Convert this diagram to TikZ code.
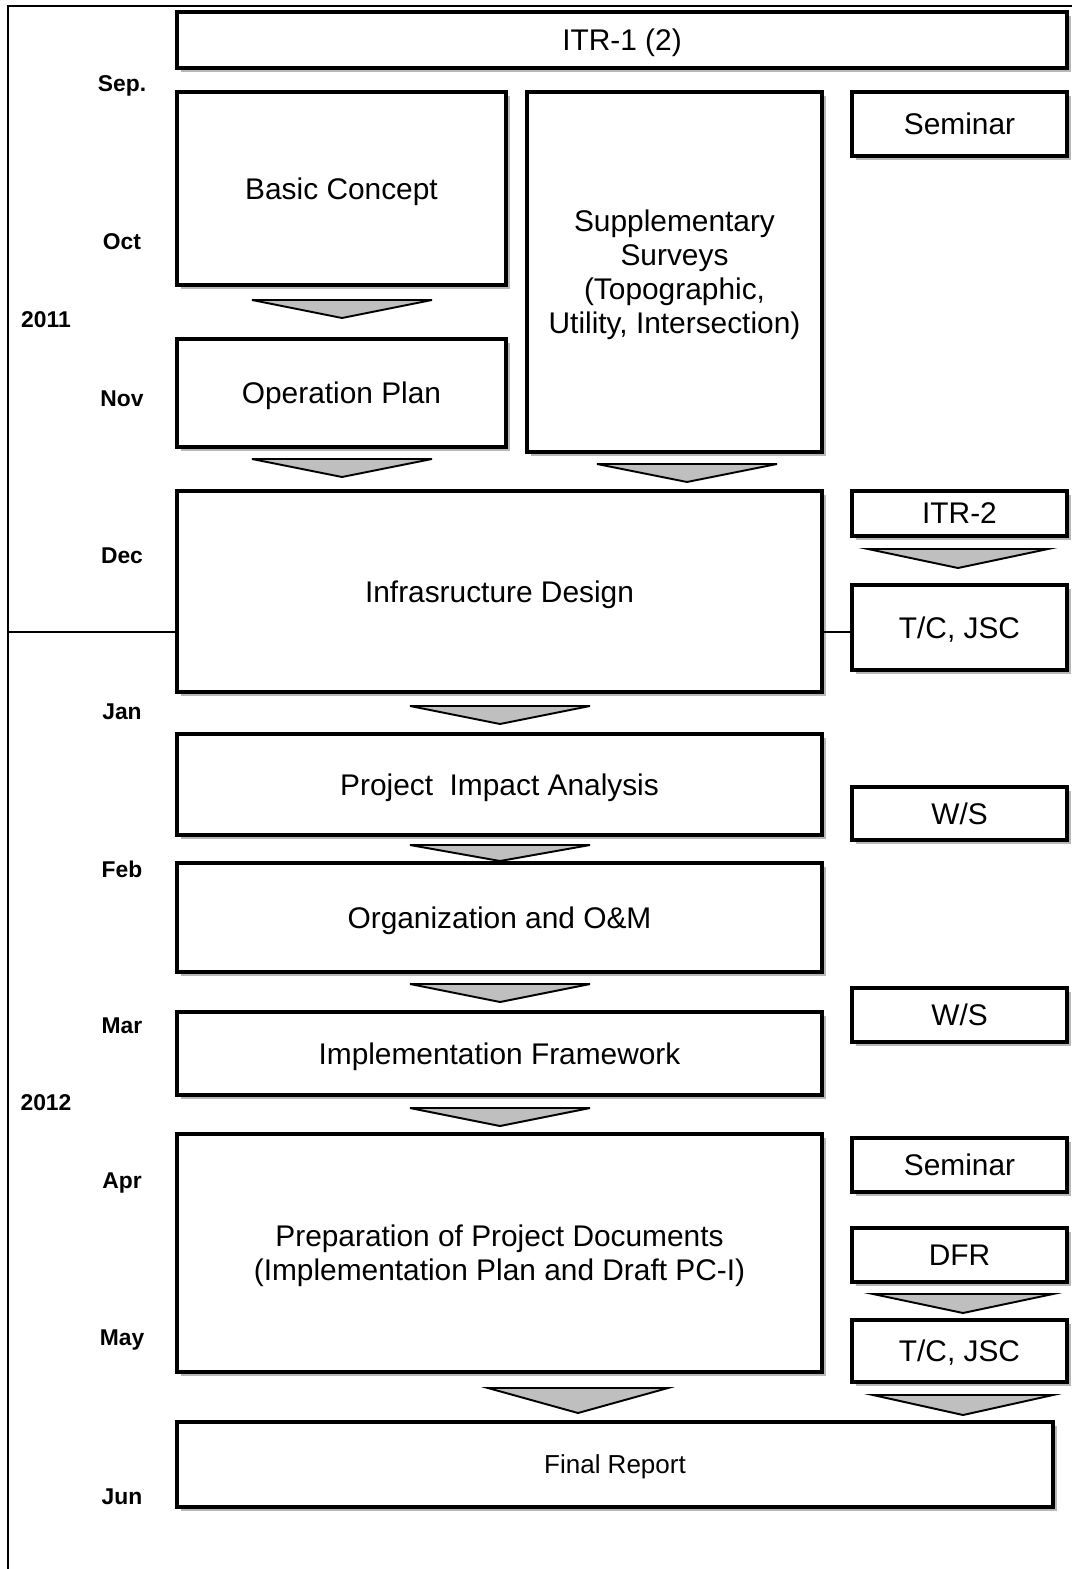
\documentclass[tikz,border=0pt]{standalone}
\usepackage{fontspec}
\setmainfont{Liberation Sans}
\usetikzlibrary{shadows}
\tikzset{
  x=0.02cm, y=-0.02cm,
  box/.style={draw=black, line width=2.8pt, fill=white, inner sep=0pt,
    font=\fontsize{17}{19.3}\selectfont, align=center, text depth=0pt,
    drop shadow={shadow xshift=0.07cm, shadow yshift=-0.07cm, fill=black!28, opacity=1}},
  lab/.style={font=\fontsize{13}{14}\selectfont\bfseries, inner sep=0pt},
  chev/.style={draw=black, line width=1.1pt, fill=black!25, line join=miter},
  frame/.style={draw=black, line width=1.1pt}
}
\newcommand\mkbox[6][]{%
  \node[box, #1, minimum width={(#4-#2)*0.02cm}, minimum height={(#5-#3)*0.02cm}]
    (#6) at ({(#2+#4)/2},{(#3+#5)/2})}
\newcommand\mkchev[3]{% left x, top y, tip y
  \draw[chev] (#1,#2) -- ({#1+180},#2) -- ({#1+90},#3) -- cycle;}
\begin{document}
\begin{tikzpicture}
\useasboundingbox (0,0) rectangle (1072,1569);
% frame
\draw[frame] (8,1569) -- (8,6) -- (1072,6);
% boxes
\mkbox{177}{12}{1067}{68}{itr}{ITR-1 (2)};
\mkbox{177}{92}{506}{285}{bc}{Basic Concept};
\mkbox{527}{92}{822}{452}{ss}{Supplementary\\Surveys\\(Topographic,\\Utility, Intersection)};
\mkbox{852}{92}{1067}{156}{sem}{Seminar};
\mkbox{177}{339}{506}{447}{op}{Operation Plan};
\mkbox{177}{491}{822}{692}{inf}{Infrasructure Design};
\mkbox{852}{491}{1067}{536}{itrb}{ITR-2};
\mkbox{852}{585}{1067}{670}{tca}{T/C, JSC};
\mkbox{177}{734}{822}{835}{pia}{Project\ \ Impact Analysis};
\mkbox{852}{787}{1067}{840}{wsa}{W/S};
\mkbox{177}{863}{822}{972}{org}{Organization and O\&M};
\mkbox{852}{988}{1067}{1042}{wsb}{W/S};
\mkbox{177}{1012}{822}{1095}{imp}{Implementation Framework};
\mkbox{177}{1134}{822}{1372}{prep}{Preparation of Project Documents\\(Implementation Plan and Draft PC-I)};
\mkbox{852}{1138}{1067}{1192}{semb}{Seminar};
\mkbox{852}{1228}{1067}{1282}{dfr}{DFR};
\mkbox{852}{1320}{1067}{1382}{tcb}{T/C, JSC};
\mkbox[font=\fontsize{14.8}{16}\selectfont]{177}{1422}{1053}{1507}{fin}{Final Report};
% year divider
\coordinate (dl) at (8,632);
\draw[frame] (dl) -- (inf.west |- dl);
\draw[frame] (inf.east |- dl) -- (tca.west |- dl);
% chevrons
\mkchev{252}{300}{318}
\mkchev{252}{459}{477}
\mkchev{597}{464}{482}
\mkchev{868}{549}{568}
\mkchev{410}{706}{724}
\mkchev{410}{845}{861}
\mkchev{410}{984}{1002}
\mkchev{410}{1108}{1126}
\mkchev{873}{1294}{1313}
\mkchev{488}{1388}{1413}
\mkchev{873}{1395}{1415}
% labels
\node[lab] (lsep) at (122,86) {Sep.};
\node[lab] (loct) at (122,242) {Oct};
\node[lab] (l2011) at (46,320) {2011};
\node[lab] (lnov) at (122,399) {Nov};
\node[lab] (ldec) at (122,556) {Dec};
\node[lab] (ljan) at (122,712) {Jan};
\node[lab] (lfeb) at (122,869) {Feb};
\node[lab] (lmar) at (122,1026) {Mar};
\node[lab] (l2012) at (46,1103) {2012};
\node[lab] (lapr) at (122,1183) {Apr};
\node[lab] (lmay) at (122,1340) {May};
\node[lab] (ljun) at (122,1497) {Jun};
\end{tikzpicture}
\end{document}
